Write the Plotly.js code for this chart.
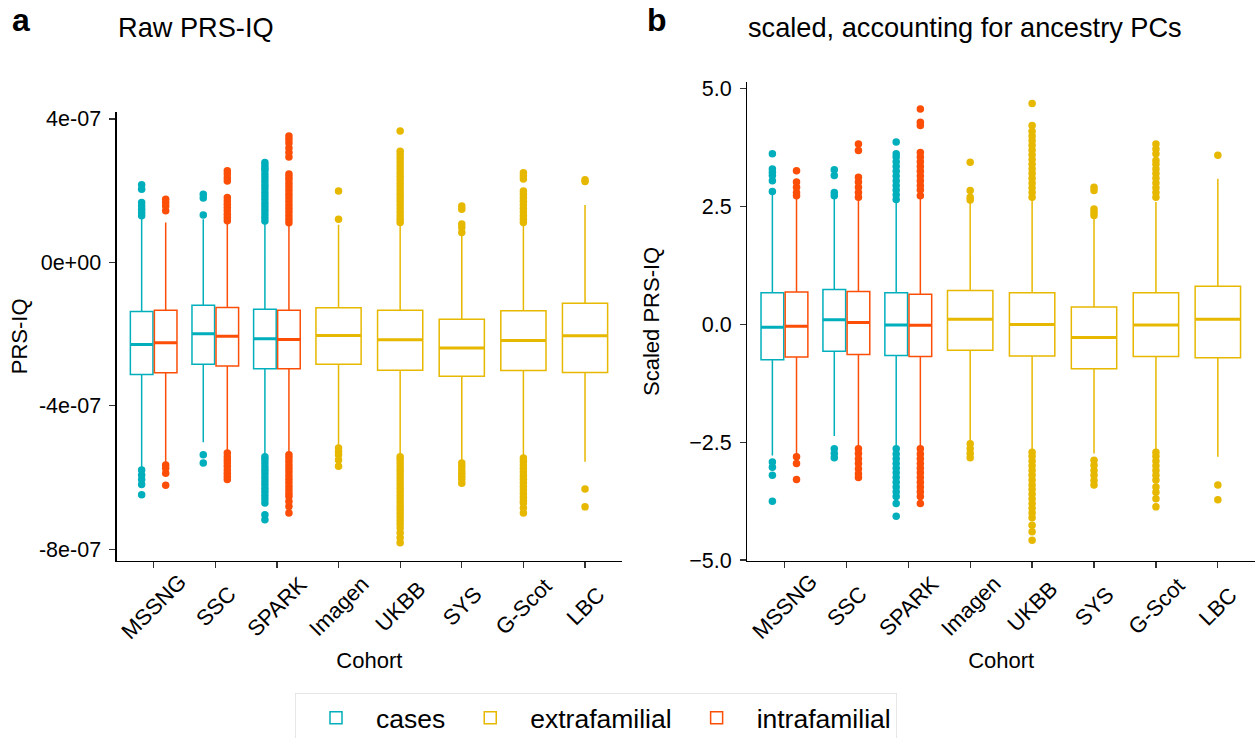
<!DOCTYPE html>
<html><head><meta charset="utf-8">
<script src="https://cdn.plot.ly/plotly-3.0.1.min.js"></script>
<style>html,body{margin:0;padding:0;background:#fff}#chart{width:1255px;height:738px}</style>
</head><body><div id="chart"></div>
<script>
// ---------- categories ----------
const cohorts = ['MSSNG', 'SSC', 'SPARK', 'Imagen', 'UKBB', 'SYS', 'G-Scot', 'LBC'];
const familyCohorts = ['MSSNG', 'SSC', 'SPARK'];
const extraCohorts = ['Imagen', 'UKBB', 'SYS', 'G-Scot', 'LBC'];
const groupNames = ['cases', 'extrafamilial', 'intrafamilial'];
const groupColors = ['#00AFBB', '#E7B800', '#FC4E07'];

// ---------- panel a: raw PRS-IQ (values in units of 1e-7) ----------
const RAW_UNIT = 1e-7;
const rawTickVals = [-8e-7, -4e-7, 0, 4e-7];
const rawTickText = ['-8e-07', '-4e-07', '0e+00', '4e-07'];

const rawCasesQ1 = [-3.13, -2.84, -2.97];
const rawCasesMed = [-2.29, -1.99, -2.13];
const rawCasesQ3 = [-1.37, -1.20, -1.31];
const rawCasesLo = [-5.72, -5.02, -5.37];
const rawCasesHi = [1.25, 1.20, 1.10];
const rawCasesOut = [
  [2.16, 2.04, 1.67, 1.57, 1.48, 1.39, 1.30, -5.79, -5.93, -6.06, -6.20, -6.48],
  [1.90, 1.79, 1.32, -5.37, -5.60],
  [2.78, 2.70, 2.62, 2.55, 2.45, 2.35, 2.25, 2.15, 2.05, 1.95, 1.85, 1.75, 1.65, 1.55, 1.45, 1.35, 1.25, 1.15,
   -5.42, -5.50, -5.60, -5.70, -5.80, -5.90, -6.00, -6.10, -6.20, -6.30, -6.40, -6.50, -6.60, -6.71, -7.04, -7.18]
];

const rawIntraQ1 = [-3.08, -2.89, -2.97];
const rawIntraMed = [-2.24, -2.06, -2.15];
const rawIntraQ3 = [-1.34, -1.26, -1.34];
const rawIntraLo = [-5.60, -5.28, -5.32];
const rawIntraHi = [1.11, 1.07, 1.02];
const rawIntraOut = [
  [1.76, 1.67, 1.57, 1.44, -5.65, -5.74, -5.88, -6.22],
  [2.55, 2.46, 2.36, 2.27, 1.81, 1.71, 1.62, 1.53, 1.44, 1.34, 1.25, 1.16,
   -5.32, -5.42, -5.51, -5.60, -5.69, -5.79, -5.88, -5.97, -6.06],
  [3.52, 3.43, 3.33, 3.19, 3.06, 2.94, 2.46, 2.38, 2.30, 2.20, 2.10, 2.00, 1.90, 1.80, 1.70, 1.60, 1.50, 1.40, 1.30, 1.20, 1.10,
   -5.37, -5.45, -5.55, -5.65, -5.75, -5.85, -5.95, -6.05, -6.15, -6.25, -6.35, -6.45, -6.53, -6.67, -6.81, -6.99]
];

const rawExtraQ1 = [-2.84, -3.01, -3.18, -3.02, -3.07];
const rawExtraMed = [-2.04, -2.16, -2.39, -2.18, -2.05];
const rawExtraQ3 = [-1.27, -1.34, -1.59, -1.35, -1.14];
const rawExtraLo = [-5.14, -5.37, -5.56, -5.42, -5.56];
const rawExtraHi = [1.05, 1.07, 0.74, 1.02, 1.60];
const rawExtraOut = [
  [1.99, 1.20, -5.18, -5.28, -5.37, -5.51, -5.69],
  [3.66, 3.10, 3.00, 2.90, 2.80, 2.70, 2.60, 2.50, 2.40, 2.30, 2.20, 2.10, 2.00, 1.90, 1.80, 1.70, 1.60, 1.50, 1.40, 1.30, 1.20, 1.11,
   -5.42, -5.50, -5.60, -5.70, -5.80, -5.90, -6.00, -6.10, -6.20, -6.30, -6.40, -6.50, -6.60, -6.70, -6.80, -6.90, -7.00,
   -7.10, -7.20, -7.30, -7.41, -7.54, -7.68, -7.82],
  [1.57, 1.48, 1.07, 0.97, 0.83, -5.60, -5.69, -5.79, -5.88, -5.97, -6.06, -6.16],
  [2.50, 2.41, 2.32, 1.99, 1.90, 1.80, 1.70, 1.60, 1.50, 1.40, 1.30, 1.20, 1.11,
   -5.46, -5.55, -5.65, -5.75, -5.85, -5.95, -6.05, -6.15, -6.25, -6.35, -6.45, -6.55, -6.65, -6.71, -6.85, -6.99],
  [2.30, 2.25, -6.32, -6.82]
];

// ---------- panel b: scaled PRS-IQ ----------
const scTickVals = [-5, -2.5, 0, 2.5, 5];

const scCasesQ1 = [-0.75, -0.57, -0.66];
const scCasesMed = [-0.06, 0.10, -0.01];
const scCasesQ3 = [0.67, 0.74, 0.67];
const scCasesLo = [-2.78, -2.37, -2.60];
const scCasesHi = [2.76, 2.68, 2.60];
const scCasesOut = [
  [3.62, 3.30, 3.23, 3.16, 3.05, 2.82, -2.92, -3.03, -3.20, -3.75],
  [3.28, 3.16, 2.80, 2.73, -2.64, -2.74, -2.83],
  [3.87, 3.62, 3.55, 3.45, 3.35, 3.25, 3.15, 3.05, 2.95, 2.85, 2.75, 2.65,
   -2.64, -2.75, -2.85, -2.95, -3.05, -3.15, -3.25, -3.35, -3.45, -3.55, -3.65, -3.80, -4.07]
];

const scIntraQ1 = [-0.69, -0.64, -0.68];
const scIntraMed = [-0.04, 0.04, -0.02];
const scIntraQ3 = [0.69, 0.70, 0.64];
const scIntraLo = [-2.78, -2.60, -2.60];
const scIntraHi = [2.70, 2.66, 2.68];
const scIntraOut = [
  [3.26, 3.02, 2.91, 2.80, 2.73, -2.81, -2.95, -3.29],
  [3.83, 3.69, 3.12, 3.02, 2.91, 2.80, 2.70, -2.64, -2.74, -2.85, -2.95, -3.06, -3.17, -3.25],
  [4.57, 4.29, 4.22, 3.65, 3.55, 3.45, 3.35, 3.25, 3.15, 3.05, 2.95, 2.85, 2.73,
   -2.64, -2.75, -2.85, -2.95, -3.05, -3.15, -3.25, -3.35, -3.45, -3.55, -3.65, -3.80]
];

const scExtraQ1 = [-0.55, -0.67, -0.94, -0.68, -0.71];
const scExtraMed = [0.11, 0.00, -0.28, -0.01, 0.11];
const scExtraQ3 = [0.72, 0.67, 0.37, 0.67, 0.81];
const scExtraLo = [-2.49, -2.67, -2.74, -2.67, -2.81];
const scExtraHi = [2.60, 2.63, 2.28, 2.60, 3.09];
const scExtraOut = [
  [3.44, 2.84, 2.70, 2.64, -2.53, -2.64, -2.74, -2.83],
  [4.69, 4.22, 4.10, 4.00, 3.90, 3.80, 3.70, 3.60, 3.50, 3.40, 3.30, 3.20, 3.10, 3.00, 2.90, 2.80, 2.70,
   -2.71, -2.80, -2.90, -3.00, -3.10, -3.20, -3.30, -3.40, -3.50, -3.60, -3.70, -3.80, -3.90, -4.00, -4.10, -4.26, -4.40, -4.58],
  [2.91, 2.84, 2.45, 2.38, 2.31, -2.88, -2.99, -3.10, -3.20, -3.31, -3.41],
  [3.83, 3.72, 3.62, 3.48, 3.40, 3.30, 3.20, 3.10, 3.00, 2.90, 2.80, 2.70,
   -2.71, -2.80, -2.90, -3.00, -3.10, -3.20, -3.30, -3.45, -3.56, -3.70, -3.87],
  [3.59, -3.41, -3.72]
];

// ---------- build traces ----------
const FONT = 'Liberation Sans, Arial, Helvetica, sans-serif';
const sc = (arr, k) => arr.map(v => Array.isArray(v) ? v.map(w => w * k) : v * k);

function boxTraces(name, color, cats, q1, med, q3, lo, hi, out, k, xa, ya, align, showleg) {
  const main = {
    type: 'box', name: name, legendgroup: name, showlegend: showleg,
    x: cats, y: sc(out, k),
    q1: sc(q1, k), median: sc(med, k), q3: sc(q3, k),
    lowerfence: sc(lo, k), upperfence: sc(hi, k),
    boxpoints: 'outliers', jitter: 0, pointpos: 0,
    whiskerwidth: 0,
    line: {color: color, width: 1.5},
    fillcolor: 'rgba(255,255,255,0)',
    marker: {color: color, size: 7.5, line: {width: 0}},
    xaxis: xa, yaxis: ya,
    alignmentgroup: align + xa, offsetgroup: name + xa,
    hoverinfo: 'skip'
  };
  // thicker median bar (as in ggplot's fatten)
  const m = sc(med, k);
  const medBar = {
    type: 'box', name: name, legendgroup: name, showlegend: false,
    x: cats, q1: m, median: m, q3: m, lowerfence: m, upperfence: m,
    boxpoints: false, whiskerwidth: 0,
    line: {color: color, width: 3},
    fillcolor: 'rgba(255,255,255,0)',
    xaxis: xa, yaxis: ya,
    alignmentgroup: align + xa, offsetgroup: name + xa,
    hoverinfo: 'skip'
  };
  return [main, medBar];
}

const traces = [];
[['x', 'y', RAW_UNIT, true,
  [rawCasesQ1, rawCasesMed, rawCasesQ3, rawCasesLo, rawCasesHi, rawCasesOut],
  [rawExtraQ1, rawExtraMed, rawExtraQ3, rawExtraLo, rawExtraHi, rawExtraOut],
  [rawIntraQ1, rawIntraMed, rawIntraQ3, rawIntraLo, rawIntraHi, rawIntraOut]],
 ['x2', 'y2', 1, false,
  [scCasesQ1, scCasesMed, scCasesQ3, scCasesLo, scCasesHi, scCasesOut],
  [scExtraQ1, scExtraMed, scExtraQ3, scExtraLo, scExtraHi, scExtraOut],
  [scIntraQ1, scIntraMed, scIntraQ3, scIntraLo, scIntraHi, scIntraOut]]
].forEach(([xa, ya, k, leg, cs, ex, inr]) => {
  traces.push(...boxTraces(groupNames[0], groupColors[0], familyCohorts, ...cs, k, xa, ya, 'fam', leg));
  traces.push(...boxTraces(groupNames[1], groupColors[1], extraCohorts, ...ex, k, xa, ya, 'ext', leg));
  traces.push(...boxTraces(groupNames[2], groupColors[2], familyCohorts, ...inr, k, xa, ya, 'fam', leg));
});

const W = 1255, H = 738;
const xAxisBase = {
  type: 'category', categoryorder: 'array', categoryarray: cohorts,
  range: [-0.6, 7.6], fixedrange: true,
  showline: true, linecolor: '#000', linewidth: 1.3, mirror: false,
  ticks: 'outside', ticklen: 6, tickwidth: 1.3, tickcolor: '#333',
  showticklabels: false,
  showgrid: false, zeroline: false,
  title: {text: 'Cohort', font: {family: FONT, size: 22, color: '#000'}, standoff: 85}
};
const yAxisBase = {
  showline: true, linecolor: '#000', linewidth: 1.3,
  ticks: 'outside', ticklen: 6, tickwidth: 1.3, tickcolor: '#333',
  tickfont: {family: FONT, size: 21.5, color: '#000'},
  showgrid: false, zeroline: false, ticklabelstandoff: 4
};

// rotated category labels, centred under each tick (ggplot angle = 45 style)
const tickLabelAnns = [];
['x', 'x2'].forEach(xr => {
  cohorts.forEach(c => {
    tickLabelAnns.push({
      text: c, xref: xr, x: c, yref: 'paper', y: (H - 606) / H,
      xanchor: 'center', yanchor: 'middle', textangle: -45, showarrow: false,
      font: {family: FONT, size: 22, color: '#000'}
    });
  });
});

const layout = {
  width: W, height: H,
  margin: {l: 0, r: 0, t: 0, b: 0, autoexpand: false},
  paper_bgcolor: '#fff', plot_bgcolor: '#fff',
  font: {family: FONT, color: '#000'},
  boxmode: 'group', boxgap: 0.22, boxgroupgap: 0.06,
  showlegend: true,
  legend: {
    orientation: 'h', x: 596 / W, xanchor: 'center', y: (H - 693) / H, yanchor: 'top',
    font: {family: FONT, size: 26.5, color: '#000'},
    bordercolor: '#e6e6e6', borderwidth: 1, bgcolor: '#fff',
    itemwidth: 70, traceorder: 'normal'
  },
  xaxis: Object.assign({}, xAxisBase, {domain: [116.7 / W, 622 / W], anchor: 'y'}),
  xaxis2: Object.assign({}, xAxisBase, {domain: [747.3 / W, 1], anchor: 'y2'}),
  yaxis: Object.assign({}, yAxisBase, {
    domain: [(H - 561) / H, (H - 111.7) / H], anchor: 'x',
    range: [-8.33e-7, 4.2e-7], tickvals: rawTickVals, ticktext: rawTickText,
    title: {text: 'PRS-IQ', font: {family: FONT, size: 22, color: '#000'}, standoff: 5}
  }),
  yaxis2: Object.assign({}, yAxisBase, {
    domain: [(H - 561) / H, (H - 81.7) / H], anchor: 'x2',
    range: [-5.02, 5.15], tickvals: scTickVals, tickformat: '.1f',
    title: {text: 'Scaled PRS-IQ', font: {family: FONT, size: 22, color: '#000'}, standoff: 23}
  }),
  annotations: tickLabelAnns.concat([
    {text: '<b>a</b>', x: 10 / W, y: 1 - 20 / H, xref: 'paper', yref: 'paper', xanchor: 'left', yanchor: 'middle',
     showarrow: false, font: {family: FONT, size: 32, color: '#000'}},
    {text: '<b>b</b>', x: 645 / W, y: 1 - 20 / H, xref: 'paper', yref: 'paper', xanchor: 'left', yanchor: 'middle',
     showarrow: false, font: {family: FONT, size: 32, color: '#000'}},
    {text: 'Raw PRS-IQ', x: 116 / W, y: 1 - 27 / H, xref: 'paper', yref: 'paper', xanchor: 'left', yanchor: 'middle',
     showarrow: false, font: {family: FONT, size: 27.2, color: '#000'}},
    {text: 'scaled, accounting for ancestry PCs', x: 746 / W, y: 1 - 27 / H, xref: 'paper', yref: 'paper',
     xanchor: 'left', yanchor: 'middle', showarrow: false, font: {family: FONT, size: 27.2, color: '#000'}}
  ])
};

Plotly.newPlot('chart', traces, layout, {displayModeBar: false, staticPlot: true});
</script>
</body></html>
